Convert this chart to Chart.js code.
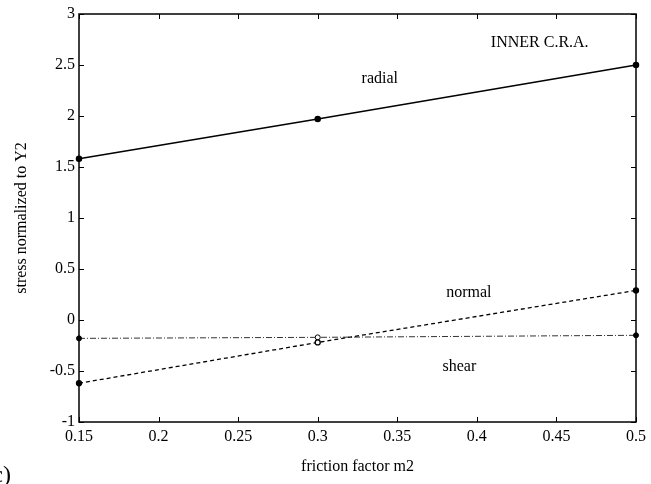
<!DOCTYPE html>
<html>
<head>
<meta charset="utf-8">
<script src="https://cdn.jsdelivr.net/npm/chart.js@4/dist/chart.umd.min.js"></script>
<style>
  body { margin: 0; background: #fff; }
  canvas { display: block; }
</style>
</head>
<body>
<canvas id="chart" width="651" height="484"></canvas>
<script>
// friction factor m2 values
const frictionFactor = [0.15, 0.3, 0.5];
// stress normalized to Y2
const radialStress = [1.58, 1.97, 2.5];
const normalStress = [-0.62, -0.22, 0.29];
const shearStress = [-0.18, -0.17, -0.15];

const xTicks = [0.15, 0.2, 0.25, 0.3, 0.35, 0.4, 0.45, 0.5];
const yTicks = [-1, -0.5, 0, 0.5, 1, 1.5, 2, 2.5, 3];

// text notes on the plot, in data coordinates
const notes = [
  { text: "INNER C.R.A.", x: 0.4395, y: 2.72 },
  { text: "radial", x: 0.339, y: 2.36 },
  { text: "normal", x: 0.395, y: 0.27 },
  { text: "shear", x: 0.389, y: -0.46 }
];

const serif = "'Liberation Serif', 'DejaVu Serif', serif";

function toPoints(ys) {
  return frictionFactor.map((x, i) => ({ x: x, y: ys[i] }));
}

// draws the box, inward ticks on all four sides and the text notes
const framePlugin = {
  id: "frame",
  beforeDatasetsDraw(chart) {
    const ctx = chart.ctx;
    const a = chart.chartArea;
    const xs = chart.scales.x;
    const ys = chart.scales.y;
    ctx.save();
    ctx.strokeStyle = "#000";
    ctx.lineWidth = 1.5;
    ctx.strokeRect(a.left, a.top, a.right - a.left, a.bottom - a.top);
    ctx.lineWidth = 1;
    ctx.beginPath();
    xTicks.forEach(v => {
      const px = Math.round(xs.getPixelForValue(v)) + 0.5;
      ctx.moveTo(px, a.bottom); ctx.lineTo(px, a.bottom - 5);
      ctx.moveTo(px, a.top); ctx.lineTo(px, a.top + 5);
    });
    yTicks.forEach(v => {
      const py = Math.round(ys.getPixelForValue(v)) + 0.5;
      ctx.moveTo(a.left, py); ctx.lineTo(a.left + 5, py);
      ctx.moveTo(a.right, py); ctx.lineTo(a.right - 5, py);
    });
    ctx.stroke();

    ctx.fillStyle = "#000";
    ctx.font = "16px " + serif;
    ctx.textAlign = "center";
    ctx.textBaseline = "middle";
    notes.forEach(n => {
      ctx.fillText(n.text, xs.getPixelForValue(n.x), ys.getPixelForValue(n.y));
    });

    // panel letter, cut off at the page edge
    ctx.font = "24px " + serif;
    ctx.textAlign = "right";
    ctx.fillText("(c)", 11, 476);
    ctx.restore();
  }
};

new Chart(document.getElementById("chart"), {
  type: "line",
  data: {
    datasets: [
      {
        label: "radial",
        data: toPoints(radialStress),
        borderColor: "#000",
        borderWidth: 1.5,
        pointRadius: 2.5,
        pointBackgroundColor: "#000",
        pointBorderColor: "#000"
      },
      {
        label: "normal",
        data: toPoints(normalStress),
        borderColor: "#000",
        borderWidth: 1.3,
        borderDash: [4, 3],
        pointRadius: 2.5,
        pointBackgroundColor: ["#000", "#fff", "#000"],
        pointBorderColor: "#000"
      },
      {
        label: "shear",
        data: toPoints(shearStress),
        borderColor: "#333",
        borderWidth: 1,
        borderDash: [6, 2, 1, 2],
        pointRadius: 2.5,
        pointBackgroundColor: ["#000", "#fff", "#000"],
        pointBorderColor: "#000"
      }
    ]
  },
  options: {
    responsive: false,
    animation: false,
    clip: false,
    layout: { padding: { top: 14, right: 10, left: 0, bottom: 8 } },
    plugins: {
      legend: { display: false },
      tooltip: { enabled: false }
    },
    scales: {
      x: {
        type: "linear",
        min: 0.15,
        max: 0.5,
        afterBuildTicks: s => { s.ticks = xTicks.map(v => ({ value: v })); },
        afterFit: s => { s.height = 54; },
        grid: { display: false, drawTicks: false },
        border: { display: false },
        ticks: {
          color: "#000",
          font: { family: serif, size: 16 },
          padding: 5,
          maxRotation: 0,
          callback: v => String(Number(v.toFixed(2)))
        },
        title: {
          display: true,
          text: "friction factor m2",
          color: "#000",
          font: { family: serif, size: 16 },
          padding: { top: 0, bottom: 0 }
        }
      },
      y: {
        min: -1,
        max: 3,
        afterBuildTicks: s => { s.ticks = yTicks.map(v => ({ value: v })); },
        afterFit: s => { s.width = 79; },
        grid: { display: false, drawTicks: false },
        border: { display: false },
        ticks: {
          color: "#000",
          font: { family: serif, size: 16 },
          padding: 4,
          callback: v => String(v)
        },
        title: {
          display: true,
          text: "stress normalized to Y2",
          color: "#000",
          font: { family: serif, size: 16 },
          padding: { top: 12, bottom: 0 }
        }
      }
    }
  },
  plugins: [framePlugin]
});
</script>
</body>
</html>
